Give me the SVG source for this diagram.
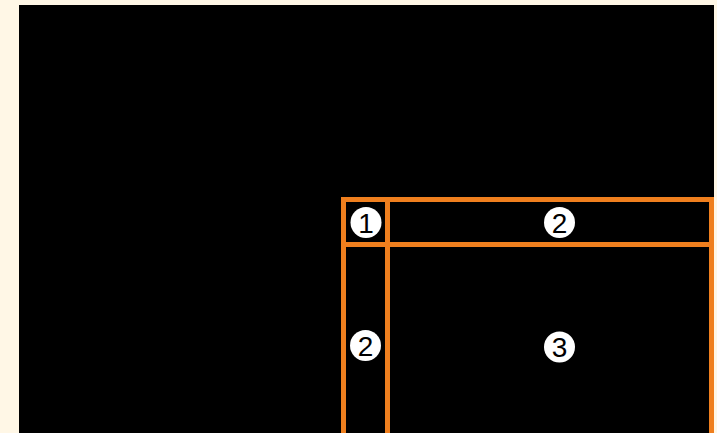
<svg xmlns="http://www.w3.org/2000/svg" width="717" height="433" viewBox="0 0 717 433">
<style>
.ln{stroke:#ef7f1e;stroke-width:5;fill:none}
.c{fill:#ffffff}
.num{font-family:"Liberation Sans",sans-serif;font-size:28px;fill:#000000;text-anchor:middle}
</style>
<rect x="0" y="0" width="717" height="433" fill="#fff7e6"/>
<rect id="screen" x="19" y="5" width="695" height="428" fill="#000000"/>
<g id="grid">
<path class="ln" d="M343.5 433 V199.5 H711.5 V433"/>
<line class="ln" x1="387.5" y1="199.5" x2="387.5" y2="433"/>
<line class="ln" x1="343.5" y1="244.5" x2="711.5" y2="244.5"/>
</g>
<g id="n1"><circle class="c" cx="366" cy="222.5" r="15.5"/><text class="num" x="366" y="232.5">1</text></g>
<g id="n2a"><circle class="c" cx="559.5" cy="222.5" r="15.5"/><text class="num" x="559.5" y="232.5">2</text></g>
<g id="n2b"><circle class="c" cx="365.5" cy="345.5" r="15.5"/><text class="num" x="365.5" y="355.5">2</text></g>
<g id="n3"><circle class="c" cx="559.5" cy="347" r="15.5"/><text class="num" x="559.5" y="357">3</text></g>
</svg>
